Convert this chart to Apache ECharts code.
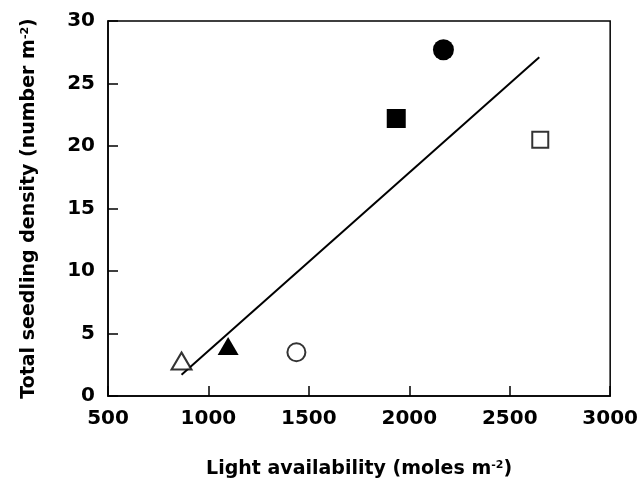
<!DOCTYPE html>
<html>
<head>
<meta charset="utf-8">
<script src="https://cdn.jsdelivr.net/npm/echarts@6/dist/echarts.min.js"></script>
<style>html,body{margin:0;padding:0;background:#fff;}#c{width:641px;height:488px;}</style>
</head>
<body>
<div id="c"></div>
<script>
// Data
const xTicks = [500, 1000, 1500, 2000, 2500, 3000];
const yTicks = [0, 5, 10, 15, 20, 25, 30];
const openTriangle = [[866, 2.8]];
const filledTriangle = [[1098, 4.0]];
const openCircle = [[1438, 3.5]];
const filledSquare = [[1935, 22.2]];
const filledCircle = [[2170, 27.7]];
const openSquare = [[2652, 20.5]];
const fitLine = [[866, 1.7], [2647, 27.1]];

const FONT = '"DejaVu Sans", Arial, sans-serif';
const chart = echarts.init(document.getElementById('c'));
const open = {color: '#fff', borderColor: '#000', borderWidth: 2};
const filled = {color: '#000', opacity: 1};
chart.setOption({
  animation: false,
  backgroundColor: '#fff',
  grid: {left: 108, right: 30, top: 21, bottom: 92, show: true, borderColor: '#000', borderWidth: 1.5, backgroundColor: 'transparent'},
  xAxis: {
    type: 'value', min: xTicks[0], max: xTicks[xTicks.length - 1], interval: 500,
    name: '{a|Light availability (moles m}{s|-2}{a|)}',
    nameLocation: 'middle', nameGap: 64,
    nameTextStyle: {rich: {
      a: {fontFamily: FONT, fontSize: 19, fontWeight: 'bold', color: '#000'},
      s: {fontFamily: FONT, fontSize: 11, fontWeight: 'bold', color: '#000', verticalAlign: 'top', padding: [0, 0, 8, 0]}
    }},
    axisLine: {show: true, lineStyle: {color: '#000', width: 1.5}},
    axisTick: {show: true, inside: true, length: 10, lineStyle: {color: '#000', width: 1.5}},
    axisLabel: {fontFamily: FONT, fontSize: 20, fontWeight: 'bold', color: '#000', margin: 13, formatter: v => String(v)},
    splitLine: {show: false}
  },
  yAxis: {
    type: 'value', min: yTicks[0], max: yTicks[yTicks.length - 1], interval: 5,
    name: '{a|Total seedling density (number m}{s|-2}{a|)}',
    nameLocation: 'middle', nameGap: 69, nameRotate: 90,
    nameTextStyle: {rich: {
      a: {fontFamily: FONT, fontSize: 19, fontWeight: 'bold', color: '#000'},
      s: {fontFamily: FONT, fontSize: 11, fontWeight: 'bold', color: '#000', verticalAlign: 'top', padding: [0, 0, 8, 0]}
    }},
    axisLine: {show: true, lineStyle: {color: '#000', width: 1.5}},
    axisTick: {show: true, inside: true, length: 10, lineStyle: {color: '#000', width: 1.5}},
    axisLabel: {fontFamily: FONT, fontSize: 20, fontWeight: 'bold', color: '#000', margin: 13, formatter: v => String(v)},
    splitLine: {show: false}
  },
  series: [
    {type: 'line', data: fitLine, symbol: 'none', lineStyle: {color: '#000', width: 2}, z: 1},
    {type: 'scatter', data: openTriangle, symbol: 'triangle', symbolSize: [20, 17], itemStyle: open, z: 3},
    {type: 'scatter', data: filledTriangle, symbol: 'triangle', symbolSize: [21, 18], itemStyle: filled, z: 3},
    {type: 'scatter', data: openCircle, symbol: 'circle', symbolSize: 18, itemStyle: open, z: 3},
    {type: 'scatter', data: filledSquare, symbol: 'rect', symbolSize: 19, itemStyle: filled, z: 3},
    {type: 'scatter', data: filledCircle, symbol: 'circle', symbolSize: 21, itemStyle: filled, z: 3},
    {type: 'scatter', data: openSquare, symbol: 'rect', symbolSize: 16, itemStyle: open, z: 3}
  ]
});
</script>
</body>
</html>
